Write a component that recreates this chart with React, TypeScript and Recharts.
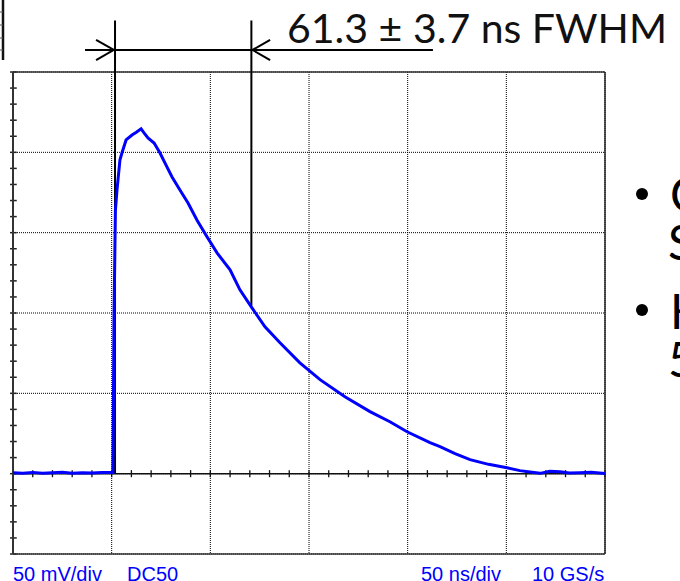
import React from "react";
import {
  LineChart,
  Line,
  XAxis,
  YAxis,
  CartesianGrid,
  ReferenceLine,
} from "recharts";

// time in ns (50 ns/div), signal in mV (50 mV/div)
const timeNs = [
  0, 5, 10, 15, 20, 25, 30, 35, 40, 45, 50.6, 50.8, 51.2, 51.9, 52.7, 53.2,
  54.2, 55.2, 57.3, 60.3, 62.5, 64.9, 66.5, 68.4, 71.5, 74.5, 78.0, 80.6,
  84.6, 88.7, 93.2, 98.3, 103.4, 110.0, 115.0, 121.1, 127.7, 135.3, 145.4,
  155.6, 168.2, 180.9, 191.0, 199.7, 211.3, 216.4, 224, 231.6, 241, 250.3,
  256.9, 262, 267.1, 272, 277.2, 282, 287.3, 293, 300,
];
const signalMv = [
  0.6, 0.3, 0.8, 0.2, 0.5, 0.9, 0.3, 0.6, 0.4, 0.8, 0.7, 28.6, 100, 164,
  176.6, 182.8, 195.3, 199.6, 207.7, 210.8, 212.5, 214.6, 212, 209.0, 205.8,
  199.6, 190.9, 184.7, 176.6, 168.5, 157.9, 147.4, 137.4, 126.9, 114.4, 103.2,
  91.4, 81.5, 69.0, 58.5, 47.9, 38.6, 32.3, 26.1, 19.3, 16.8, 12.5, 8.7, 5.8,
  3.7, 1.9, 1.0, 0.2, 1.5, 1.2, 0.4, 0.6, 0.9, 0.1,
];

const majorTimeTicks = [0, 50, 100, 150, 200, 250, 300];
const majorVoltTicks = [-50, 0, 50, 100, 150, 200, 250];
const minorTimeTicks = Array.from({ length: 31 }, (_, i) => i * 10);
const minorVoltTicks = Array.from({ length: 31 }, (_, i) => -50 + i * 10);

// FWHM markers (ns) and the level of the arrow line (mV, above the screen)
const fwhmStart = 51.7;
const fwhmEnd = 120.8;
const halfMax = 104.5;
const arrowLevel = 263.7;
const markerTop = 282;

const data = timeNs.map((t, i) => ({ t, v: signalMv[i] }));

const blue = "#0000ff";

export default function App() {
  return (
    <div style={{ position: "absolute", left: 0, top: 0, width: 680, height: 581, background: "#fff", overflow: "hidden" }}>
      <LineChart
        width={680}
        height={581}
        data={data}
        margin={{ top: 72, left: 13, right: 75, bottom: 27 }}
      >
        <XAxis type="number" dataKey="t" domain={[0, 300]} ticks={majorTimeTicks} hide />
        <YAxis type="number" domain={[-50, 250]} ticks={majorVoltTicks} hide />
        <CartesianGrid stroke="#000" strokeDasharray="1 1" />
        {minorVoltTicks.map((v) => (
          <ReferenceLine
            key={"yt" + v}
            segment={[{ x: -1.5, y: v }, { x: 1.9, y: v }]}
            stroke="#222"
            strokeWidth={1.5}
            ifOverflow="visible"
          />
        ))}
        {minorTimeTicks.map((t) => (
          <ReferenceLine
            key={"xt" + t}
            segment={[{ x: t, y: -2.2 }, { x: t, y: 2.2 }]}
            stroke="#111"
            strokeWidth={1.3}
            ifOverflow="visible"
          />
        ))}
        <ReferenceLine y={0} stroke="#111" strokeWidth={1.5} />
        <ReferenceLine y={250} stroke="#333" strokeWidth={1.5} />
        <ReferenceLine y={-50} stroke="#333" strokeWidth={1.5} />
        <ReferenceLine x={0} stroke="#333" strokeWidth={2} />
        <ReferenceLine x={300} stroke="#222" strokeWidth={1.5} />

        {/* FWHM annotation */}
        <ReferenceLine
          segment={[{ x: fwhmStart, y: 0 }, { x: fwhmStart, y: markerTop }]}
          stroke="#000"
          strokeWidth={2}
          ifOverflow="visible"
        />
        <ReferenceLine
          segment={[{ x: fwhmEnd, y: halfMax }, { x: fwhmEnd, y: markerTop }]}
          stroke="#000"
          strokeWidth={2}
          ifOverflow="visible"
        />
        <ReferenceLine
          segment={[{ x: 36.5, y: arrowLevel }, { x: 212.8, y: arrowLevel }]}
          stroke="#000"
          strokeWidth={2.2}
          ifOverflow="visible"
        />
        <ReferenceLine
          segment={[{ x: 42.1, y: 270 }, { x: fwhmStart - 0.6, y: arrowLevel }]}
          stroke="#000"
          strokeWidth={2}
          ifOverflow="visible"
        />
        <ReferenceLine
          segment={[{ x: 42.1, y: 257.4 }, { x: fwhmStart - 0.6, y: arrowLevel }]}
          stroke="#000"
          strokeWidth={2}
          ifOverflow="visible"
        />
        <ReferenceLine
          segment={[{ x: 130.3, y: 270 }, { x: fwhmEnd + 0.6, y: arrowLevel }]}
          stroke="#000"
          strokeWidth={2}
          ifOverflow="visible"
        />
        <ReferenceLine
          segment={[{ x: 130.3, y: 257.4 }, { x: fwhmEnd + 0.6, y: arrowLevel }]}
          stroke="#000"
          strokeWidth={2}
          ifOverflow="visible"
        />

        <Line
          type="linear"
          dataKey="v"
          stroke={blue}
          strokeWidth={3}
          dot={false}
          isAnimationActive={false}
        />
      </LineChart>

      <svg
        width={680}
        height={581}
        style={{ position: "absolute", left: 0, top: 0, pointerEvents: "none" }}
      >
        {/* edge of a neighbouring screen shot */}
        <line x1={3} y1={0} x2={3} y2={60} stroke="#111" strokeWidth={2.5} />
        {[12, 25, 38, 50].map((y) => (
          <line key={y} x1={0} y1={y} x2={3} y2={y} stroke="#555" strokeWidth={1} />
        ))}

        <text
          x={287}
          y={43}
          fontFamily="Lato, 'Open Sans', sans-serif"
          fontSize={40}
          fill="#111"
          textLength={380}
          lengthAdjust="spacingAndGlyphs"
        >
          61.3 ± 3.7 ns FWHM
        </text>

        <circle cx={642} cy={194} r={6} fill="#000" />
        <circle cx={642} cy={310} r={6} fill="#000" />
        <g fontFamily="Lato, 'Open Sans', sans-serif" fontSize={48} fill="#000">
          <text x={670} y={212}>C</text>
          <text x={668} y={260}>S</text>
          <text x={670} y={329}>H</text>
          <text x={668} y={377}>5</text>
        </g>

        <g fontFamily="'Liberation Sans', Arial, sans-serif" fontSize={20} fill={blue}>
          <text x={13} y={580.5}>50 mV/div</text>
          <text x={127} y={580.5}>DC50</text>
          <text x={421} y={580.5}>50 ns/div</text>
          <text x={532} y={580.5}>10 GS/s</text>
        </g>
      </svg>
    </div>
  );
}
